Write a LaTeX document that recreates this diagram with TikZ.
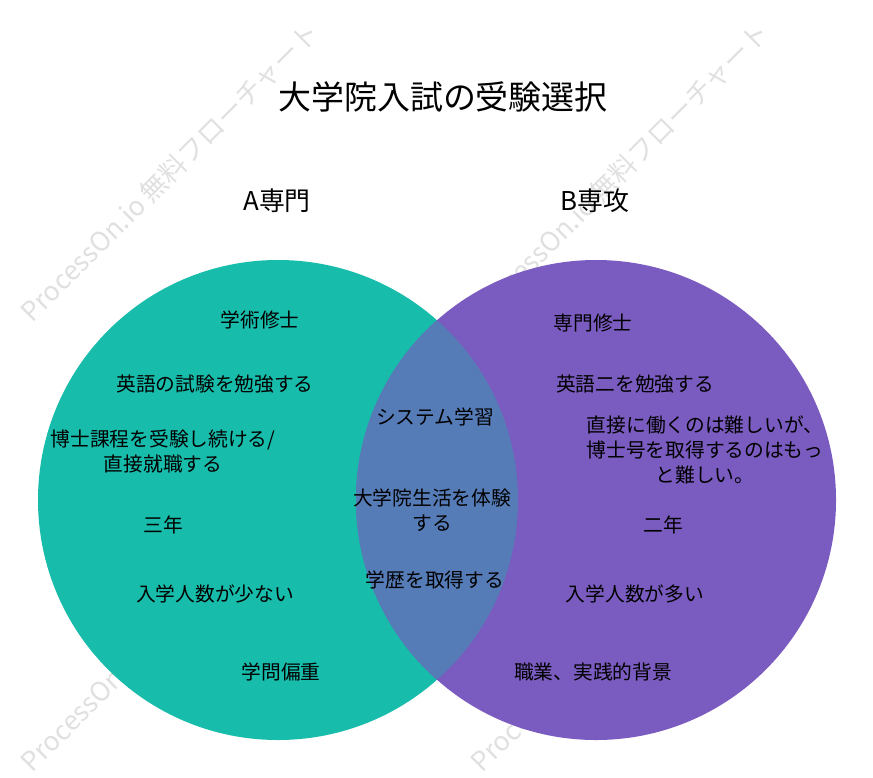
\documentclass[tikz,border=0pt]{standalone}
\usepackage{fontspec}
\setmainfont{Noto Sans CJK JP}
\usepackage{tikz}
\definecolor{vennteal}{RGB}{24,188,171}
\definecolor{vennpurple}{RGB}{122,91,191}
\definecolor{vennmix}{RGB}{86,124,184}
\definecolor{wmgray}{RGB}{224,224,224}

\begin{document}
\begin{tikzpicture}[x=0.75pt,y=-0.75pt,
  lbl/.style={font=\fontsize{14.8}{18.75}\selectfont,align=center,inner sep=0pt},
  head/.style={font=\fontsize{19.4}{22}\selectfont,inner sep=0pt},
  wm/.style={font=\fontsize{20}{24}\selectfont,text=wmgray,rotate=45,inner sep=0pt}]
  \useasboundingbox (0,0) rectangle (873,777);

  % ---- watermark ----
  \foreach \i/\x/\y in {1/170/172,2/620/172,3/170/622,4/620/622}{
    \node[wm] (wm\i) at (\x,\y) {ProcessOn.io 無料フローチャート};
  }

  % ---- circles ----
  \fill[vennteal] (278,500) circle [radius=180pt];
  \fill[vennpurple] (596,500) circle [radius=180pt];
  \begin{scope}
    \clip (278,500) circle [radius=180pt];
    \fill[vennmix] (596,500) circle [radius=180pt];
  \end{scope}

  % ---- title and headings ----
  \node[font=\fontsize{24.7}{28}\selectfont,inner sep=0pt] (title) at (443,97) {大学院入試の受験選択};
  \node[head] (headA) at (277,201) {A専門};
  \node[head] (headB) at (595,201) {B専攻};

  % ---- left: A ----
  \foreach \i/\x/\y/\txt in {1/260/320/{学術修士},
                             2/215/384/{英語の試験を勉強する},
                             3/163/451/{博士課程を受験し続ける/\\直接就職する},
                             4/163/525/{三年},
                             5/215/594/{入学人数が少ない},
                             6/281/672/{学問偏重}}{
    \node[lbl] (a\i) at (\x,\y) {\txt};
  }

  % ---- middle: both ----
  \foreach \i/\x/\y/\txt in {1/435/417/{システム学習},
                             2/432/510/{大学院生活を体験\\する},
                             3/435/580/{学歴を取得する}}{
    \node[lbl] (m\i) at (\x,\y) {\txt};
  }

  % ---- right: B ----
  \foreach \i/\x/\y/\txt in {1/593/323/{専門修士},
                             2/635/384/{英語二を勉強する},
                             3/705/450/{直接に働くのは難しいが、\\博士号を取得するのはもっ\\と難しい。},
                             4/663/525/{二年},
                             5/635/594/{入学人数が多い},
                             6/593/672/{職業、実践的背景}}{
    \node[lbl] (b\i) at (\x,\y) {\txt};
  }
\end{tikzpicture}
\end{document}
